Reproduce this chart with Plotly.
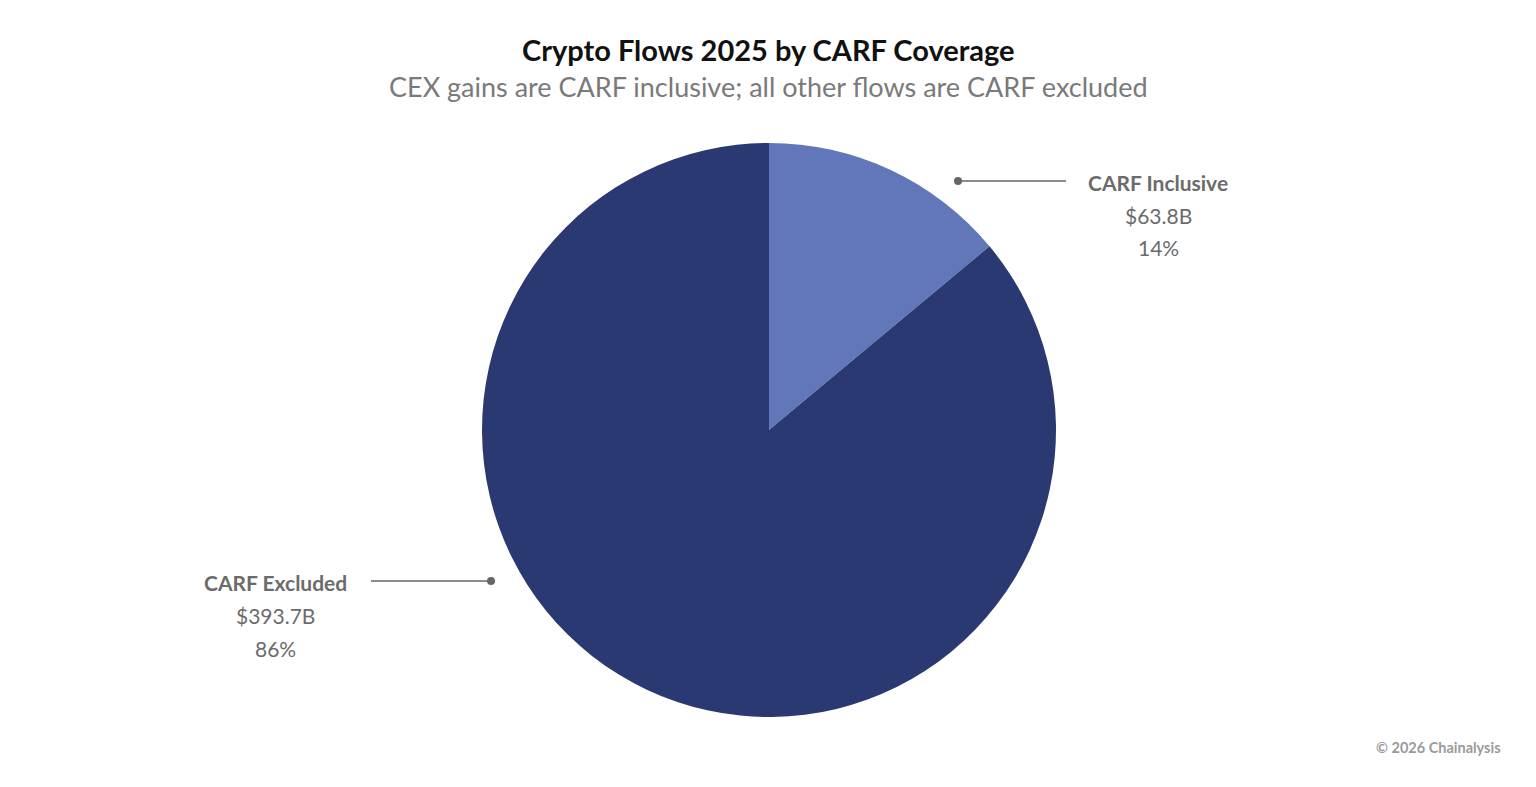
import plotly.graph_objects as go

# data
labels = ["CARF Inclusive", "CARF Excluded"]
values = [63.8, 393.7]  # $B
colors = ["#6277BA", "#2B3972"]

W, H = 1536, 787
OFF = 8  # page body margin the browser adds around the figure
FONT = "Lato"
TEXT_GREY = "#6b6b6b"

total = sum(values)
shares = [round(v / total * 100) for v in values]

fig = go.Figure()
fig.add_trace(go.Pie(
    labels=labels,
    values=values,
    marker=dict(colors=colors, line=dict(width=0)),
    sort=False,
    direction="clockwise",
    rotation=0,
    textinfo="none",
    hoverinfo="label+value+percent",
    showlegend=False,
    domain=dict(x=[0, 2 * (769 - OFF) / W],
                y=[1 - (717 - OFF) / H, 1 - (143 - OFF) / H]),
))


def px(x, y):
    # screen pixel position -> paper coordinates (margins are zero)
    return (x - OFF) / W, 1 - (y - OFF) / H


# label blocks: (text centre x, first line y, leader start x, leader end x)
label_pos = [
    (1158, 182, 1066, 958),
    (275, 582, 371, 491),
]

annotations = []
shapes = []
for (name, val, pct), (tx, ty, lx0, lx1) in zip(zip(labels, values, shares), label_pos):
    lines = [(f"<b>{name}</b>", 0), (f"${val:.1f}B", 33), (f"{pct}%", 66)]
    for txt, dy in lines:
        x, y = px(tx, ty + dy)
        annotations.append(dict(
            x=x, y=y, xref="paper", yref="paper", text=txt, showarrow=False,
            xanchor="center", yanchor="middle",
            font=dict(family=FONT, size=21, color=TEXT_GREY),
        ))
    x0, y0 = px(lx0, ty - 1)
    x1, _ = px(lx1, ty - 1)
    shapes.append(dict(type="line", xref="paper", yref="paper",
                       x0=x0, x1=x1, y0=y0, y1=y0,
                       line=dict(color="#666666", width=1.5)))
    r = 4
    cx, cy = px(lx1, ty - 1)
    shapes.append(dict(type="circle", xref="paper", yref="paper",
                       x0=cx - r / W, x1=cx + r / W,
                       y0=cy - r / H, y1=cy + r / H,
                       fillcolor="#666666", line=dict(width=0)))

# title and subtitle
tx, ty = px(768, 50)
annotations.append(dict(
    x=tx, y=ty, xref="paper", yref="paper", showarrow=False,
    text="<b>Crypto Flows 2025 by CARF Coverage</b>",
    xanchor="center", yanchor="middle",
    font=dict(family=FONT, size=29, color="#111111"),
))
tx, ty = px(768, 87)
annotations.append(dict(
    x=tx, y=ty, xref="paper", yref="paper", showarrow=False,
    text="CEX gains are CARF inclusive; all other flows are CARF excluded",
    xanchor="center", yanchor="middle",
    font=dict(family=FONT, size=27, color="#7a7a7a"),
))
# credit
tx, ty = px(1503, 747)
annotations.append(dict(
    x=tx, y=ty, xref="paper", yref="paper", showarrow=False,
    text="<b>© 2026 Chainalysis</b>",
    xanchor="right", yanchor="middle",
    font=dict(family=FONT, size=14.5, color="#9a9a9a"),
))

fig.update_layout(
    width=W, height=H,
    margin=dict(l=0, r=0, t=0, b=0),
    paper_bgcolor="white",
    plot_bgcolor="white",
    annotations=annotations,
    shapes=shapes,
)

fig.write_html("out.html")
